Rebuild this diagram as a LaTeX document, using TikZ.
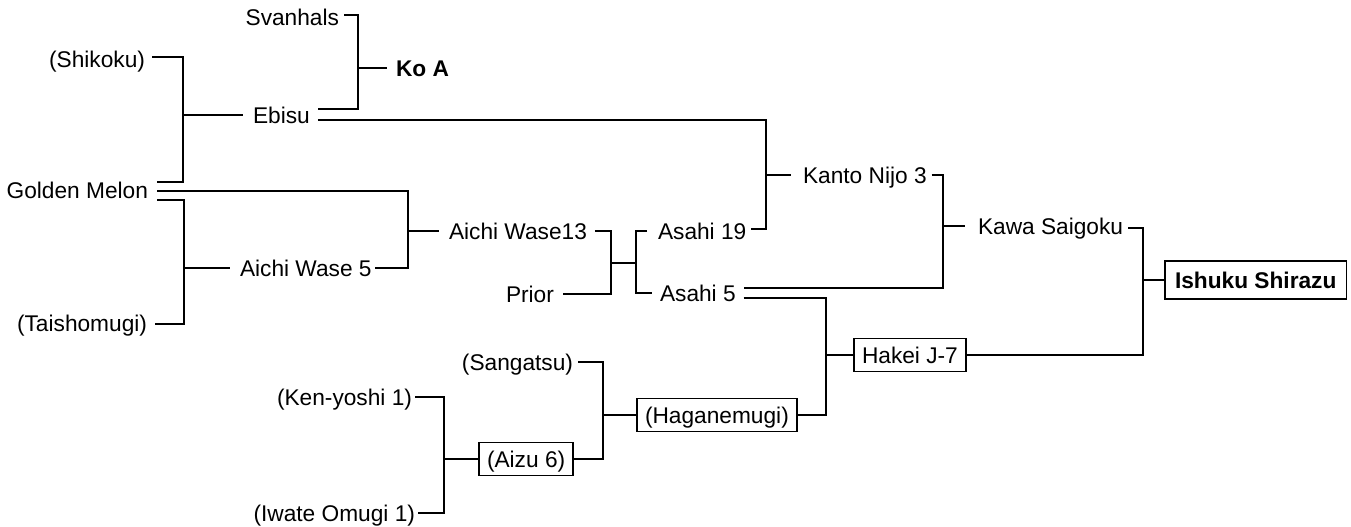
\documentclass[tikz,border=0pt]{standalone}
\usepackage{fontspec}
\setmainfont{Liberation Sans}
\begin{document}
\begin{tikzpicture}[x=1pt,y=-1pt,line width=1.8pt,
  lab/.style={inner sep=0pt,outer sep=0pt,text height=16.2pt,text depth=0pt,font=\fontsize{22.7}{27}\selectfont},
  boxed/.style={lab,draw,line width=1.6pt,inner xsep=8pt,inner ysep=8.5pt},
  bigbox/.style={boxed,inner xsep=10pt,inner ysep=10.9pt,font=\fontsize{22.7}{27}\selectfont\bfseries}]
\useasboundingbox (0,0) rectangle (1351,527);
% labels
\node[lab,anchor=east] (svan) at (339,17) {Svanhals};
\node[lab,anchor=west,font=\fontsize{22.7}{27}\selectfont\bfseries] (koa) at (396,68) {Ko A};
\node[lab,anchor=east] (shik) at (145,59) {(Shikoku)};
\node[lab,anchor=west] (ebisu) at (253,115) {Ebisu};
\node[lab,anchor=east] (golden) at (148,190) {Golden Melon};
\node[lab,anchor=east] (taisho) at (147,323) {(Taishomugi)};
\node[lab,anchor=west] (aw5) at (240,268) {Aichi Wase 5};
\node[lab,anchor=west] (aw13) at (449,231) {Aichi Wase13};
\node[lab,anchor=west] (prior) at (506,294) {Prior};
\node[lab,anchor=west] (asahi19) at (658,231) {Asahi 19};
\node[lab,anchor=west] (asahi5) at (660,293) {Asahi 5};
\node[lab,anchor=west] (kanto) at (803,175) {Kanto Nijo 3};
\node[lab,anchor=west] (kawa) at (978,226) {Kawa Saigoku};
\node[bigbox,anchor=west] (ishuku) at (1165,280) {Ishuku Shirazu};
\node[boxed,anchor=west] (hakei) at (854,355) {Hakei J-7};
\node[boxed,anchor=west] (hagane) at (637,415) {(Haganemugi)};
\node[boxed,anchor=west] (aizu) at (479,459) {(Aizu 6)};
\node[lab,anchor=east] (sang) at (573,362) {(Sangatsu)};
\node[lab,anchor=east] (ken) at (412,397) {(Ken-yoshi 1)};
\node[lab,anchor=east] (iwate) at (415,513) {(Iwate Omugi 1)};
% junctions
\coordinate (jKo) at (358,68);
\coordinate (jEb) at (183,115);
\coordinate (jAw5) at (184,268);
\coordinate (jAw13) at (408,231);
\coordinate (jAs) at (611,263);
\coordinate (jAs2) at (636,263);
\coordinate (jKan) at (766,175);
\coordinate (jKawa) at (943,226);
\coordinate (jHak) at (826,355);
\coordinate (jIsh) at (1143,280);
\coordinate (jHag) at (603,415);
\coordinate (jAiz) at (444,459);
% connectors
\draw ([xshift=5pt,yshift=2pt]svan.east) -| (jKo) |- ([xshift=8pt,yshift=6pt]ebisu.east);
\draw (jKo) -- ([xshift=-9pt]koa.west);
\draw ([xshift=7pt,yshift=2pt]shik.east) -| (jEb) |- ([xshift=9pt,yshift=8pt]golden.east);
\draw (jEb) -- ([xshift=-10pt]ebisu.west);
\draw ([xshift=9pt,yshift=-1pt]golden.east) -| (jAw13) |- ([xshift=3pt]aw5.east);
\draw (jAw13) -- ([xshift=-10pt]aw13.west);
\draw ([xshift=9pt,yshift=-10pt]golden.east) -| (jAw5) |- ([xshift=8pt,yshift=-1pt]taisho.east);
\draw (jAw5) -- ([xshift=-10pt]aw5.west);
\draw ([xshift=8pt]aw13.east) -| (jAs) |- ([xshift=9pt]prior.east);
\draw (jAs) -- (jAs2);
\draw ([xshift=-11pt]asahi19.west) -| (jAs2) |- ([xshift=-8pt]asahi5.west);
\draw ([xshift=8pt,yshift=-5pt]ebisu.east) -| (jKan) |- ([xshift=5pt,yshift=2pt]asahi19.east);
\draw (jKan) -- ([xshift=-12pt]kanto.west);
\draw ([xshift=5pt]kanto.east) -| (jKawa) |- ([xshift=8pt,yshift=5pt]asahi5.east);
\draw (jKawa) -- ([xshift=-13pt]kawa.west);
\draw ([xshift=8pt,yshift=-5pt]asahi5.east) -| (jHak) |- (hagane.east);
\draw (jHak) -- (hakei.west);
\draw ([xshift=5pt,yshift=-2pt]kawa.east) -| (jIsh) |- (hakei.east);
\draw (jIsh) -- (ishuku.west);
\draw ([xshift=5pt]sang.east) -| (jHag) |- (aizu.east);
\draw (jHag) -- (hagane.west);
\draw ([xshift=3pt]ken.east) -| (jAiz) |- ([xshift=3pt]iwate.east);
\draw (jAiz) -- (aizu.west);
\end{tikzpicture}
\end{document}
